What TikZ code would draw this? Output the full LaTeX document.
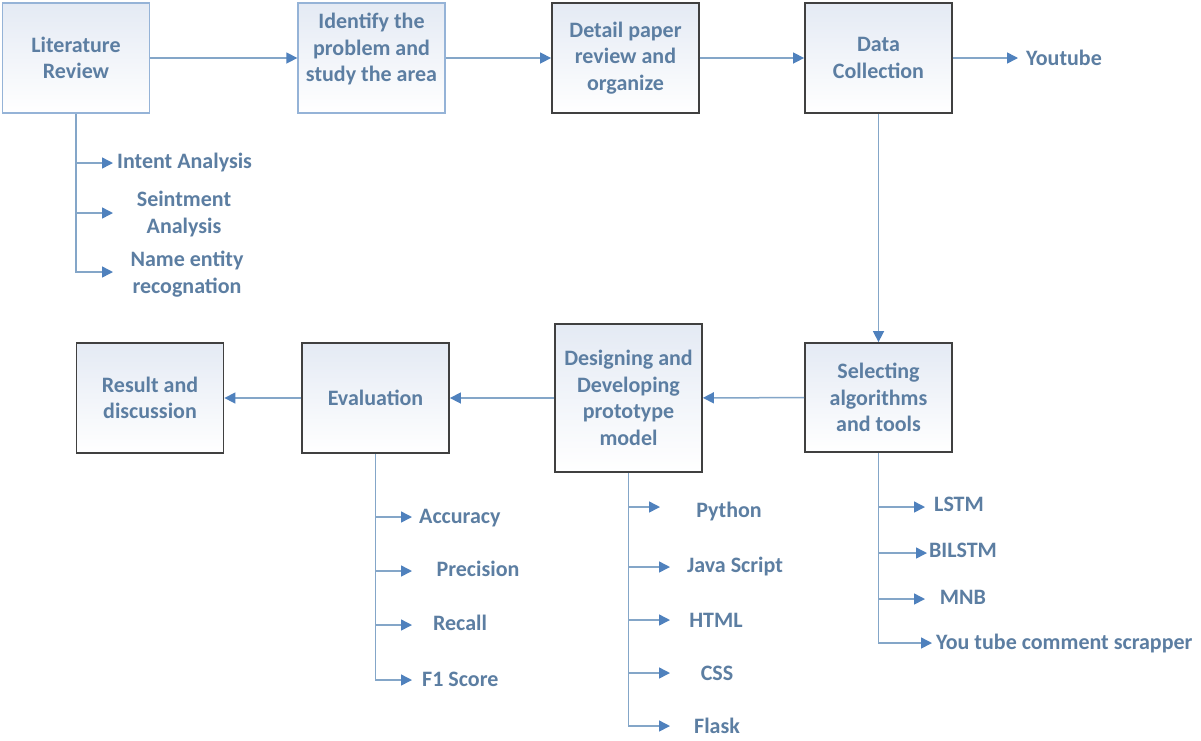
\documentclass[tikz,border=0pt]{standalone}
\usepackage{fontspec}
\setmainfont{Carlito}
\usetikzlibrary{arrows.meta}

\definecolor{txt}{HTML}{5C7EA2}
\definecolor{wire}{HTML}{84A6C8}
\definecolor{tipc}{HTML}{4F81BD}
\definecolor{edgedark}{HTML}{404040}
\definecolor{edgelight}{HTML}{95B3D7}
\definecolor{shadetop}{HTML}{E4EAF4}

\tikzset{
  labelfont/.style={font=\bfseries\fontsize{22}{26.5}\selectfont, text=txt},
  stage/.style={rectangle, labelfont, draw=edgedark, line width=1.8pt,
    top color=shadetop, bottom color=white, align=center,
    minimum width=147pt, minimum height=110pt, inner sep=2pt},
  stagelight/.style={stage, draw=edgelight, line width=1.3pt},
  item/.style={labelfont, align=center, inner sep=0pt},
  flow/.style={draw=wire, line width=1.5pt,
    -{Triangle[length=11pt, width=11pt, color=tipc, fill=tipc]}},
}

\begin{document}
\begin{tikzpicture}[x=1pt, y=-1pt]
\useasboundingbox[fill=white] (0,0) rectangle (1201,740);

% main stages, top row
\node[stagelight] (lit) at (76,58)    {Literature\\Review};
\node[stagelight] (idp) at (371.5,58) {Identify the\\problem and\\study the area\\[-6pt]\mbox{}};
\node[stage]      (det) at (625.5,58) {Detail paper\\review and\\organize};
\node[stage]      (dat) at (878.5,58) {Data\\Collection};

% main stages, bottom row
\node[stage, minimum height=109pt] (sel) at (878.5,397.5) {Selecting\\algorithms\\and tools};
\node[stage, minimum height=148pt] (des) at (628.5,398)   {Designing and\\Developing\\prototype\\model};
\node[stage] (eva) at (375.5,398) {Evaluation};
\node[stage] (res) at (150,398)   {Result and\\discussion};

% flow between stages
\draw[flow] (lit) -- (idp);
\draw[flow] (idp) -- (det);
\draw[flow] (det) -- (dat);
\draw[flow] (dat) -- (sel);
\draw[flow] (sel) -- (des);
\draw[flow] (des) -- (eva);
\draw[flow] (eva) -- (res);

% data source
\coordinate (yt0) at (1018,58);
\node[item, anchor=west] (you) at (1026,58) {Youtube};
\draw[flow] (dat.east |- yt0) -- (yt0);

% literature topics
\coordinate (l1) at (113,163);
\coordinate (l2) at (113,213);
\coordinate (l3) at (113,272);
\node[item, anchor=west] (ia) at (117,163) {Intent Analysis};
\node[item] (sa) at (184,214) {Seintment\\Analysis};
\node[item] (ne) at (187,274) {Name entity\\recognation};
\draw[flow] (lit.south) |- (l3);
\draw[flow] (lit.south |- l1) -- (l1);
\draw[flow] (lit.south |- l2) -- (l2);

% algorithms and tools
\coordinate (s1) at (925,507);
\coordinate (s2) at (927,553);
\coordinate (s3) at (925,599);
\coordinate (s4) at (932,643);
\node[item] (lstm)   at (959,504) {LSTM};
\node[item] (bilstm) at (963,550) {BILSTM};
\node[item] (mnb)    at (963,597) {MNB};
\node[item, anchor=west] (scr) at (936,643) {You tube comment scrapper};
\draw[flow] (sel.south) |- (s4);
\draw[flow] (sel.south |- s1) -- (s1);
\draw[flow] (sel.south |- s2) -- (s2);
\draw[flow] (sel.south |- s3) -- (s3);

% prototype technologies
\coordinate (d1) at (660,507);
\coordinate (d2) at (670,567);
\coordinate (d3) at (670,620);
\coordinate (d4) at (670,673);
\coordinate (d5) at (670,726);
\node[item] (py)    at (729,511) {Python};
\node[item] (js)    at (735,566) {Java Script};
\node[item] (html)  at (716,620) {HTML};
\node[item] (css)   at (717,673) {CSS};
\node[item] (flask) at (717,726) {Flask};
\draw[flow] (des.south) |- (d5);
\draw[flow] (des.south |- d1) -- (d1);
\draw[flow] (des.south |- d2) -- (d2);
\draw[flow] (des.south |- d3) -- (d3);
\draw[flow] (des.south |- d4) -- (d4);

% evaluation measures
\coordinate (e1) at (412,517);
\coordinate (e2) at (412,571);
\coordinate (e3) at (412,625);
\coordinate (e4) at (412,680);
\node[item, anchor=west] (acc) at (419,518) {Accuracy};
\node[item] (pre) at (478,569) {Precision};
\node[item] (rec) at (460,623) {Recall};
\node[item, anchor=west] (f1) at (422,679) {F1 Score};
\draw[flow] (eva.south) |- (e4);
\draw[flow] (eva.south |- e1) -- (e1);
\draw[flow] (eva.south |- e2) -- (e2);
\draw[flow] (eva.south |- e3) -- (e3);
\end{tikzpicture}
\end{document}
